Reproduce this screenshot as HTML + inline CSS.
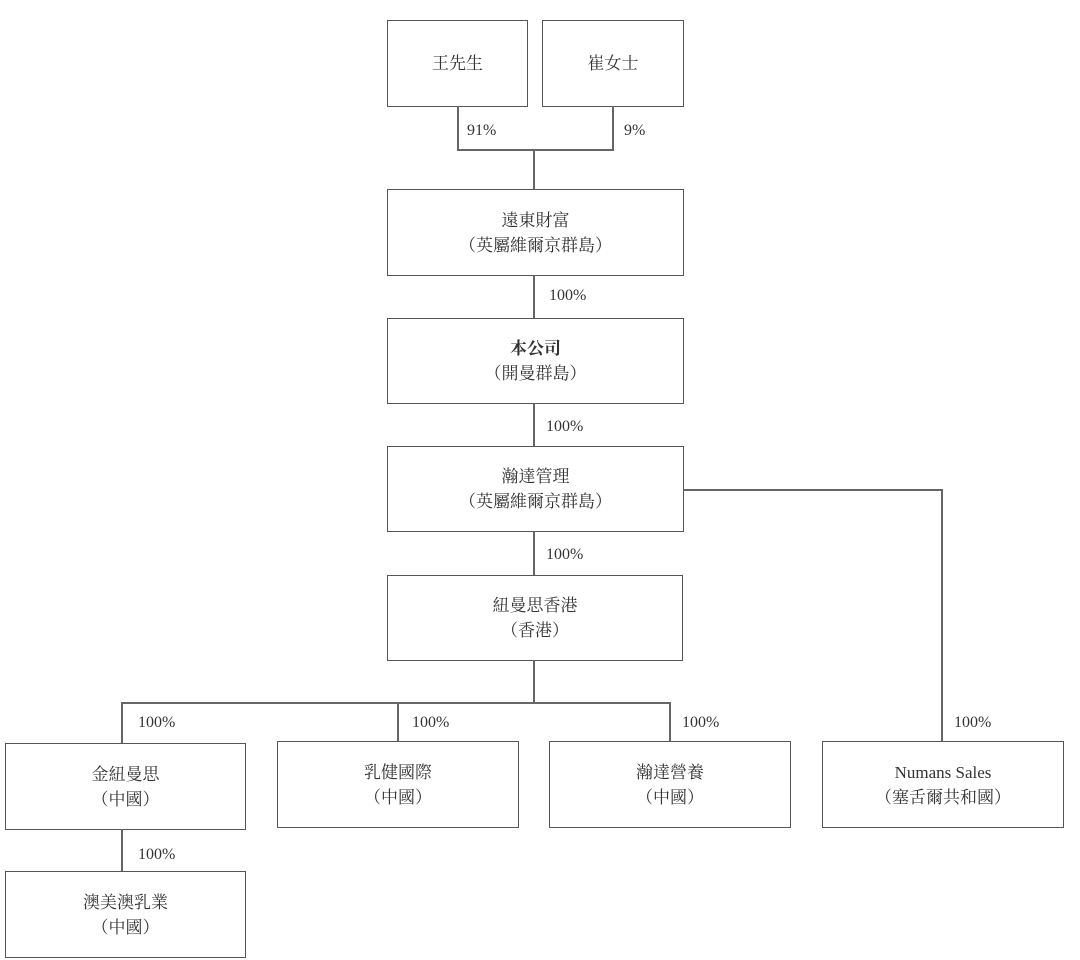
<!DOCTYPE html>
<html><head><meta charset="utf-8"><style>
body{margin:0;background:#fff;width:1080px;height:960px;position:relative;overflow:hidden;font-family:"Liberation Serif","Noto Serif CJK SC","Noto Sans CJK TC",serif;color:#333}
.b{position:absolute;border:1.5px solid #555;box-sizing:border-box;display:flex;flex-direction:column;align-items:center;justify-content:center;font-size:17px;line-height:25px;text-align:center}
.l{position:absolute;background:#666}
.t{position:absolute;font-size:16px}
</style></head><body>
<div class="b" style="left:387px;top:20px;width:141px;height:87px">王先生</div>
<div class="b" style="left:542px;top:20px;width:142px;height:87px">崔女士</div>
<div class="l" style="left:457px;top:106px;width:1.5px;height:45px"></div>
<div class="l" style="left:612px;top:106px;width:1.5px;height:45px"></div>
<div class="l" style="left:457px;top:149px;width:157px;height:1.5px"></div>
<div class="l" style="left:533px;top:149px;width:1.5px;height:40px"></div>
<div class="t" style="left:467px;top:122px">91%</div>
<div class="t" style="left:624px;top:122px">9%</div>
<div class="b" style="left:387px;top:189px;width:297px;height:87px">遠東財富<br>（英屬維爾京群島）</div>
<div class="l" style="left:533px;top:275px;width:1.5px;height:43px"></div>
<div class="t" style="left:549px;top:287px">100%</div>
<div class="b" style="left:387px;top:318px;width:297px;height:86px"><b>本公司</b>（開曼群島）</div>
<div class="l" style="left:533px;top:403px;width:1.5px;height:43px"></div>
<div class="t" style="left:546px;top:418px">100%</div>
<div class="b" style="left:387px;top:446px;width:297px;height:86px">瀚達管理<br>（英屬維爾京群島）</div>
<div class="l" style="left:683px;top:489px;width:260px;height:1.5px"></div>
<div class="l" style="left:941px;top:489px;width:1.5px;height:253px"></div>
<div class="l" style="left:533px;top:531px;width:1.5px;height:44px"></div>
<div class="t" style="left:546px;top:546px">100%</div>
<div class="b" style="left:387px;top:575px;width:296px;height:86px">紐曼思香港<br>（香港）</div>
<div class="l" style="left:533px;top:660px;width:1.5px;height:43px"></div>
<div class="l" style="left:121px;top:702px;width:550px;height:1.5px"></div>
<div class="l" style="left:121px;top:702px;width:1.5px;height:41px"></div>
<div class="l" style="left:397px;top:702px;width:1.5px;height:39px"></div>
<div class="l" style="left:669px;top:702px;width:1.5px;height:39px"></div>
<div class="t" style="left:138px;top:714px">100%</div>
<div class="t" style="left:412px;top:714px">100%</div>
<div class="t" style="left:682px;top:714px">100%</div>
<div class="t" style="left:954px;top:714px">100%</div>
<div class="b" style="left:5px;top:743px;width:241px;height:87px">金紐曼思<br>（中國）</div>
<div class="b" style="left:277px;top:741px;width:242px;height:87px">乳健國際<br>（中國）</div>
<div class="b" style="left:549px;top:741px;width:242px;height:87px">瀚達營養<br>（中國）</div>
<div class="b" style="left:822px;top:741px;width:242px;height:87px">Numans Sales<br>（塞舌爾共和國）</div>
<div class="l" style="left:121px;top:829px;width:1.5px;height:42px"></div>
<div class="t" style="left:138px;top:846px">100%</div>
<div class="b" style="left:5px;top:871px;width:241px;height:87px">澳美澳乳業<br>（中國）</div>
</body></html>
